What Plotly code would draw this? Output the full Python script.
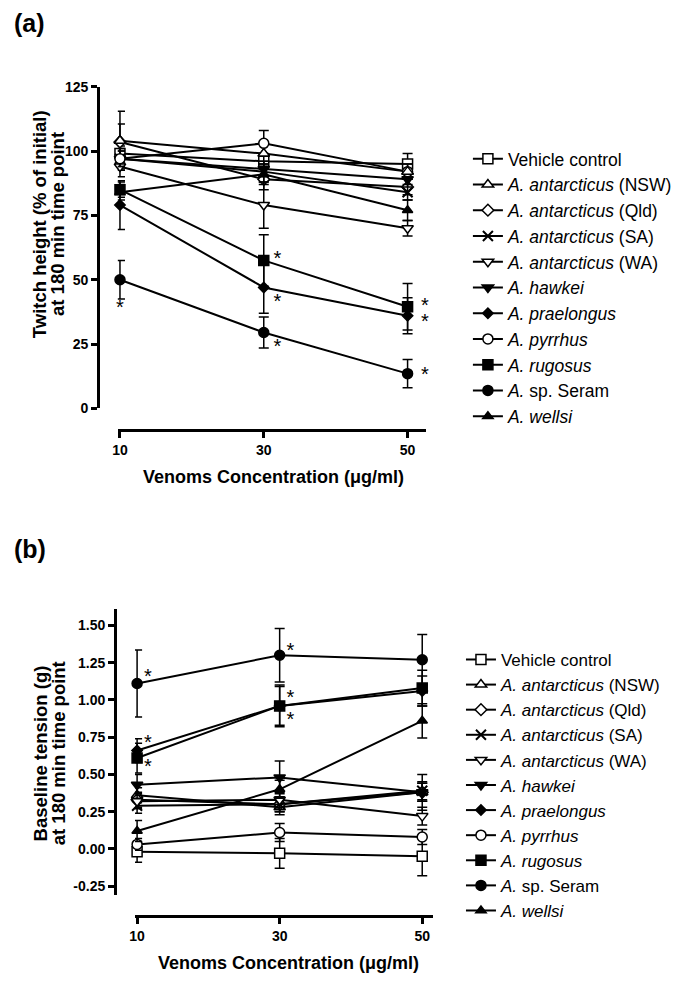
import plotly.graph_objects as go

W, H = 683, 985
FONT = "Liberation Sans, Arial, Helvetica, sans-serif"

# ---------------- data ----------------
conc = [10, 30, 50]
x_tick_text = ["10", "30", "50"]

names = [
    "Vehicle control",
    "<i>A. antarcticus</i> (NSW)",
    "<i>A. antarcticus</i> (Qld)",
    "<i>A. antarcticus</i> (SA)",
    "<i>A. antarcticus</i> (WA)",
    "<i>A. hawkei</i>",
    "<i>A. praelongus</i>",
    "<i>A. pyrrhus</i>",
    "<i>A. rugosus</i>",
    "<i>A.</i> sp. Seram",
    "<i>A. wellsi</i>",
]

# Panel (a): twitch height (% of initial) at 180 min
tw_vehicle = [99, 96, 95]
tw_nsw = [104, 99, 92]
tw_qld = [103.5, 89, 86]
tw_sa = [97, 92, 84]
tw_wa = [94, 79, 70]
tw_hawkei = [97, 93, 89]
tw_praelongus = [79, 47, 36]
tw_pyrrhus = [97, 103, 92]
tw_rugosus = [85, 57.5, 39.5]
tw_seram = [50, 29.5, 13.5]
tw_wellsi = [84, 91, 77]

tw_vehicle_err = [3, 3, 4]
tw_nsw_err = [11.5, 4, 3]
tw_qld_err = [7, 4, 3]
tw_sa_err = [4, 4, 3]
tw_wa_err = [4, 9, 3]
tw_hawkei_err = [3, 3, 3]
tw_praelongus_err = [9.5, 10, 7]
tw_pyrrhus_err = [3, 5, 3]
tw_rugosus_err = [3, 10, 9]
tw_seram_err = [7.5, 6, 5.5]
tw_wellsi_err = [3, 4, 4]

# Panel (b): baseline tension (g) at 180 min
bt_vehicle = [-0.02, -0.03, -0.05]
bt_nsw = [0.36, 0.28, 0.38]
bt_qld = [0.33, 0.30, 0.38]
bt_sa = [0.29, 0.30, 0.39]
bt_wa = [0.32, 0.33, 0.22]
bt_hawkei = [0.43, 0.48, 0.38]
bt_praelongus = [0.66, 0.96, 1.06]
bt_pyrrhus = [0.03, 0.11, 0.08]
bt_rugosus = [0.61, 0.96, 1.08]
bt_seram = [1.11, 1.30, 1.27]
bt_wellsi = [0.12, 0.40, 0.86]

bt_vehicle_err = [0.07, 0.10, 0.13]
bt_nsw_err = [0.05, 0.05, 0.06]
bt_qld_err = [0.05, 0.05, 0.06]
bt_sa_err = [0.05, 0.05, 0.06]
bt_wa_err = [0.05, 0.05, 0.06]
bt_hawkei_err = [0.07, 0.11, 0.12]
bt_praelongus_err = [0.08, 0.13, 0.10]
bt_pyrrhus_err = [0.04, 0.06, 0.05]
bt_rugosus_err = [0.10, 0.14, 0.12]
bt_seram_err = [0.225, 0.18, 0.17]
bt_wellsi_err = [0.07, 0.06, 0.115]

# significance markers
star_a_x = [10, 31.9, 31.9, 31.9, 52.4, 52.4, 52.4]
star_a_y = [38.5, 57.5, 40.9, 23.6, 39.3, 33.1, 12.4]
star_b_x = [11.5, 11.5, 11.5, 31.5, 31.5, 31.5, 52.1, 52.1, 52.1, 52.1]
star_b_y = [1.15, 0.706, 0.541, 1.323, 1.004, 0.856, 1.25, 1.07, 0.986, 0.827]

a_y_ticks = [0, 25, 50, 75, 100, 125]
a_y_tick_text = ["0", "25", "50", "75", "100", "125"]
b_y_ticks = [-0.25, 0, 0.25, 0.5, 0.75, 1.0, 1.25, 1.5]
b_y_tick_text = ["-0.25", "0.00", "0.25", "0.50", "0.75", "1.00", "1.25", "1.50"]

tw_means = [tw_vehicle, tw_nsw, tw_qld, tw_sa, tw_wa, tw_hawkei, tw_praelongus,
            tw_pyrrhus, tw_rugosus, tw_seram, tw_wellsi]
tw_errs = [tw_vehicle_err, tw_nsw_err, tw_qld_err, tw_sa_err, tw_wa_err, tw_hawkei_err,
           tw_praelongus_err, tw_pyrrhus_err, tw_rugosus_err, tw_seram_err, tw_wellsi_err]
bt_means = [bt_vehicle, bt_nsw, bt_qld, bt_sa, bt_wa, bt_hawkei, bt_praelongus,
            bt_pyrrhus, bt_rugosus, bt_seram, bt_wellsi]
bt_errs = [bt_vehicle_err, bt_nsw_err, bt_qld_err, bt_sa_err, bt_wa_err, bt_hawkei_err,
           bt_praelongus_err, bt_pyrrhus_err, bt_rugosus_err, bt_seram_err, bt_wellsi_err]

# ---------------- styles ----------------
symbols = ["square", "triangle-up", "diamond", "x-thin", "triangle-down", "triangle-down",
           "diamond", "circle", "square", "circle", "triangle-up"]
fills = ["white", "white", "white", "black", "white", "black",
         "black", "white", "black", "black", "black"]
sizes = [10, 10, 9, 10, 10, 10, 8, 10, 10, 10, 9]


def px_x(p):
    return p / W


def px_y(p):
    return 1 - p / H


fig = go.Figure()


def marker_style(i):
    return dict(symbol=symbols[i], size=sizes[i], color=fills[i],
                line=dict(color="black", width=2 if symbols[i] == "x-thin" else 1.5))


def add_panel(means, errs, xa, ya, legend_id):
    for i, name in enumerate(names):
        fig.add_trace(go.Scatter(
            x=conc, y=means[i], name=name, mode="lines+markers",
            xaxis=xa, yaxis=ya, legend=legend_id,
            line=dict(color="black", width=2),
            marker=marker_style(i),
            error_y=dict(type="data", array=errs[i], visible=True,
                         color="black", thickness=1.5, width=5),
            cliponaxis=False, hoverinfo="skip",
        ))


add_panel(tw_means, tw_errs, "x", "y", "legend")
# NSW symbols are drawn on top of the cluster in panel (a)
fig.add_trace(go.Scatter(x=conc, y=tw_nsw, mode="markers", marker=marker_style(1),
                         xaxis="x", yaxis="y", showlegend=False, cliponaxis=False,
                         hoverinfo="skip"))
add_panel(bt_means, bt_errs, "x2", "y2", "legend2")

for sx, sy, xa, ya in [(star_a_x, star_a_y, "x", "y"), (star_b_x, star_b_y, "x2", "y2")]:
    fig.add_trace(go.Scatter(
        x=sx, y=sy, mode="text", text=["*"] * len(sx), textposition="middle center",
        textfont=dict(family=FONT, size=20, color="black"),
        xaxis=xa, yaxis=ya, showlegend=False, cliponaxis=False, hoverinfo="skip",
    ))

axis_style = dict(
    showline=True, linewidth=3, linecolor="black", ticks="outside", ticklen=6,
    tickwidth=2.5, tickcolor="black", showgrid=False, zeroline=False,
    fixedrange=True, anchor="free",
    tickfont=dict(family=FONT, size=14, color="black", weight="bold"),
)

fig.update_layout(
    width=W, height=H, margin=dict(l=0, r=0, t=0, b=0),
    paper_bgcolor="white", plot_bgcolor="white", showlegend=True,
    xaxis=dict(axis_style, domain=[px_x(112.8), px_x(424)], range=[9.7, 52.6],
               position=px_y(429), tickvals=conc, ticktext=x_tick_text),
    yaxis=dict(axis_style, domain=[px_y(407), px_y(80)], range=[0, 125],
               position=px_x(93), tickvals=a_y_ticks, ticktext=a_y_tick_text),
    xaxis2=dict(axis_style, domain=[px_x(130.1), px_x(430.7)], range=[9.7, 51.5],
                position=px_y(923), tickvals=conc, ticktext=x_tick_text),
    yaxis2=dict(axis_style, domain=[px_y(901.7), px_y(611)], range=[-0.31, 1.61],
                position=px_x(110), tickvals=b_y_ticks, ticktext=b_y_tick_text),
    legend=dict(x=px_x(466), xanchor="left", y=px_y(135), yanchor="top",
                font=dict(family=FONT, size=17.5, color="black"),
                bgcolor="rgba(0,0,0,0)", borderwidth=0, tracegroupgap=0),
    legend2=dict(x=px_x(459), xanchor="left", y=px_y(644.4), yanchor="top",
                 font=dict(family=FONT, size=17, color="black"),
                 bgcolor="rgba(0,0,0,0)", borderwidth=0, tracegroupgap=0),
)

bold = dict(family=FONT, color="black", weight="bold")
annots = [
    dict(text="(a)", x=px_x(6), y=px_y(15), xanchor="left", yanchor="middle", font=dict(bold, size=25)),
    dict(text="(b)", x=px_x(6), y=px_y(550), xanchor="left", yanchor="middle", font=dict(bold, size=25)),
    dict(text="Venoms Concentration (\u03bcg/ml)", x=px_x(270), y=px_y(477),
         xanchor="center", yanchor="middle", font=dict(bold, size=18)),
    dict(text="Venoms Concentration (\u03bcg/ml)", x=px_x(285), y=px_y(971),
         xanchor="center", yanchor="middle", font=dict(bold, size=18)),
    dict(text="Twitch height (% of initial)", x=px_x(34), y=px_y(220), textangle=-90,
         xanchor="center", yanchor="middle", font=dict(bold, size=18.5)),
    dict(text="at 180 min time point", x=px_x(52), y=px_y(220), textangle=-90,
         xanchor="center", yanchor="middle", font=dict(bold, size=18.5)),
    dict(text="Baseline tension (g)", x=px_x(35), y=px_y(758), textangle=-90,
         xanchor="center", yanchor="middle", font=dict(bold, size=18.5)),
    dict(text="at 180 min time point", x=px_x(53), y=px_y(758), textangle=-90,
         xanchor="center", yanchor="middle", font=dict(bold, size=18.5)),
]
for a in annots:
    fig.add_annotation(xref="paper", yref="paper", showarrow=False, **a)

fig.write_html(
    "out.html",
    config={"displayModeBar": False},
    post_script="document.body.style.margin='0px';document.body.style.overflow='hidden';",
)
